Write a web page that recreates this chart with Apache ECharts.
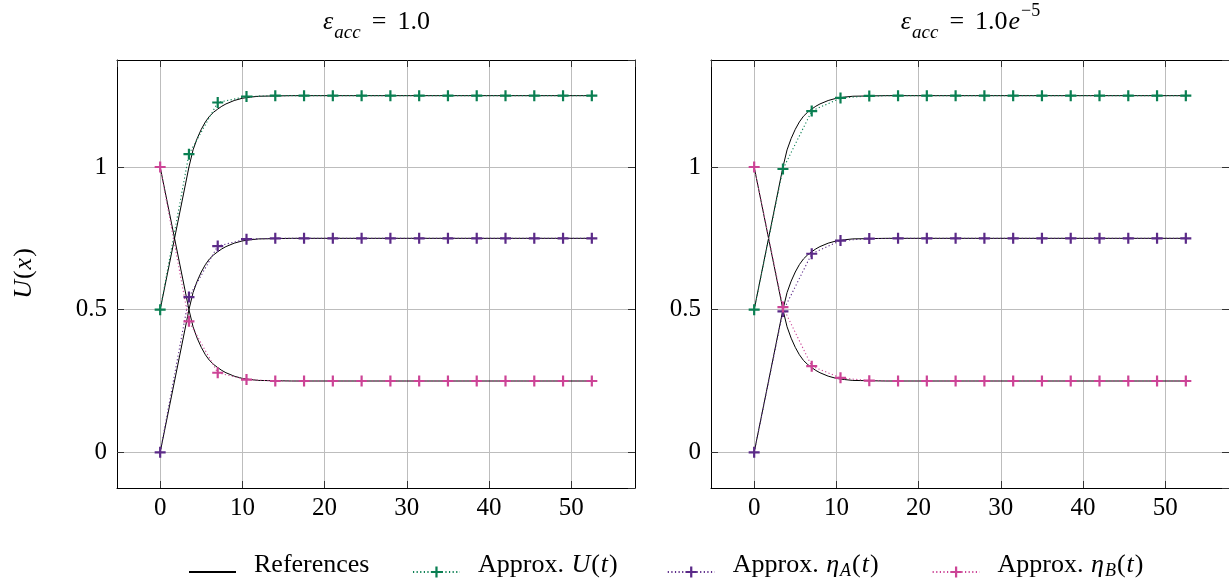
<!DOCTYPE html>
<html>
<head>
<meta charset="utf-8">
<script src="https://cdn.jsdelivr.net/npm/echarts@6/dist/echarts.min.js"></script>
<style>html,body{margin:0;padding:0;background:#fff}#c{width:1229px;height:586px}</style>
</head>
<body>
<div id="c"></div>
<script>
// ---- data ----
const tApprox = [0, 3.5, 7, 10.5, 14, 17.5, 21, 24.5, 28, 31.5, 35, 38.5, 42, 45.5, 49, 52.5];
// left panel: eps_acc = 1.0
const uApproxL    = [0.5, 1.045, 1.226, 1.247, 1.25, 1.25, 1.25, 1.25, 1.25, 1.25, 1.25, 1.25, 1.25, 1.25, 1.25, 1.25];
const etaAApproxL = [0, 0.544, 0.723, 0.747, 0.75, 0.75, 0.75, 0.75, 0.75, 0.75, 0.75, 0.75, 0.75, 0.75, 0.75, 0.75];
const etaBApproxL = [1, 0.459, 0.279, 0.255, 0.25, 0.25, 0.25, 0.25, 0.25, 0.25, 0.25, 0.25, 0.25, 0.25, 0.25, 0.25];
// right panel: eps_acc = 1.0e-5
const uApproxR    = [0.5, 0.993, 1.196, 1.242, 1.249, 1.25, 1.25, 1.25, 1.25, 1.25, 1.25, 1.25, 1.25, 1.25, 1.25, 1.25];
const etaAApproxR = [0, 0.494, 0.696, 0.742, 0.749, 0.75, 0.75, 0.75, 0.75, 0.75, 0.75, 0.75, 0.75, 0.75, 0.75, 0.75];
const etaBApproxR = [1, 0.509, 0.302, 0.261, 0.251, 0.25, 0.25, 0.25, 0.25, 0.25, 0.25, 0.25, 0.25, 0.25, 0.25, 0.25];
// reference curves
const tRef    = [0, 3.5, 4, 4.5, 5, 5.5, 6, 6.5, 7, 7.5, 8, 9, 10, 11, 12, 14, 16, 20, 30, 40, 52.5];
const uRef    = [0.5, 1.0, 1.06, 1.10, 1.132, 1.158, 1.178, 1.192, 1.203, 1.213, 1.221, 1.233, 1.241, 1.245, 1.248, 1.249, 1.25, 1.25, 1.25, 1.25, 1.25];
const etaARef = [0, 0.5, 0.56, 0.60, 0.632, 0.658, 0.678, 0.692, 0.703, 0.713, 0.721, 0.733, 0.741, 0.745, 0.748, 0.749, 0.75, 0.75, 0.75, 0.75, 0.75];
const etaBRef = [1, 0.5, 0.44, 0.40, 0.368, 0.342, 0.322, 0.308, 0.297, 0.287, 0.279, 0.267, 0.259, 0.255, 0.252, 0.251, 0.25, 0.25, 0.25, 0.25, 0.25];
const seriesNames = ['References', 'Approx. U(t)', 'Approx. \u03b7A(t)', 'Approx. \u03b7B(t)'];
const xRange = [-5.25, 57.75];
const yRange = [-0.125, 1.375];

// ---- style ----
const FONT = 'Liberation Serif';
const COL = { u: '#0a7f52', a: '#5b2a88', b: '#cc4496' };
const PLUS = 'path://M0,4H4V0H6V4H10V6H6V10H4V6H0Z';

const chart = echarts.init(document.getElementById('c'), null, { renderer: 'canvas' });
const zip = (xs, ys) => xs.map((x, i) => [x, ys[i]]);

const grids = [
  { left: 117, top: 60, width: 518, height: 428 },
  { left: 711, top: 60, width: 518, height: 428 }
];

const tick = { show: true, inside: true, length: 7, lineStyle: { color: '#333', width: 1 } };
const axLine = { show: true, onZero: false, lineStyle: { color: '#000', width: 1 } };
const lab = { fontFamily: FONT, fontSize: 25, color: '#000' };

const xAxes = [], yAxes = [];
[0, 1].forEach(g => {
  xAxes.push({ type: 'value', gridIndex: g, position: 'bottom', min: xRange[0], max: xRange[1], splitNumber: 6,
    axisLine: axLine, axisTick: tick,
    axisLabel: Object.assign({ margin: 8, showMinLabel: false, showMaxLabel: false }, lab),
    splitLine: { show: true, lineStyle: { color: '#bdbdbd', width: 1 } } });
  xAxes.push({ type: 'value', gridIndex: g, position: 'top', min: xRange[0], max: xRange[1], splitNumber: 6,
    axisLine: axLine, axisTick: tick, axisLabel: { show: false }, splitLine: { show: false } });
  yAxes.push({ type: 'value', gridIndex: g, position: 'left', min: yRange[0], max: yRange[1], splitNumber: 3,
    axisLine: axLine, axisTick: tick,
    axisLabel: Object.assign({ margin: 10, showMinLabel: false, showMaxLabel: false, formatter: v => String(v) }, lab),
    splitLine: { show: true, lineStyle: { color: '#bdbdbd', width: 1 } },
    name: g === 0 ? '{i|U}{n|(}{i|x}{n|)}' : '', nameLocation: 'middle', nameGap: 80, nameRotate: 90,
    nameTextStyle: { fontFamily: FONT, fontSize: 26, color: '#000',
      rich: { i: { fontFamily: FONT, fontSize: 26, fontStyle: 'italic', padding: [0, 1, 0, 1] }, n: { fontFamily: FONT, fontSize: 26 } } } });
  yAxes.push({ type: 'value', gridIndex: g, position: 'right', min: yRange[0], max: yRange[1], splitNumber: 3,
    axisLine: axLine, axisTick: tick, axisLabel: { show: false }, splitLine: { show: false } });
});

const series = [];
const panels = [
  { u: uApproxL, a: etaAApproxL, b: etaBApproxL },
  { u: uApproxR, a: etaAApproxR, b: etaBApproxR }
];
panels.forEach((p, g) => {
  const xi = g * 2, yi = g * 2;
  [uRef, etaARef, etaBRef].forEach(r => {
    series.push({ type: 'line', name: seriesNames[0], xAxisIndex: xi, yAxisIndex: yi, data: zip(tRef, r),
      symbol: 'none', z: 3, lineStyle: { color: '#000', width: 1 }, itemStyle: { color: '#000' },
      silent: true, animation: false });
  });
  [[p.u, COL.u, seriesNames[1]], [p.a, COL.a, seriesNames[2]], [p.b, COL.b, seriesNames[3]]].forEach(([d, c, n]) => {
    series.push({ type: 'line', name: n, xAxisIndex: xi, yAxisIndex: yi, data: zip(tApprox, d),
      symbol: PLUS, symbolSize: 11, showAllSymbol: true, z: 4,
      lineStyle: { color: c, width: 1.1, type: [1.2, 2.4] }, itemStyle: { color: c },
      silent: true, animation: false });
  });
});

const CLEAR = 'rgba(255,255,255,0)';
const legendRich = {
  n: { fontFamily: FONT, fontSize: 26, color: '#000' },
  i: { fontFamily: FONT, fontSize: 26, fontStyle: 'italic', color: '#000', padding: [0, 1, 0, 1] },
  s: { fontFamily: FONT, fontSize: 18, fontStyle: 'italic', color: '#000', padding: [12, 1, 0, 0] },
  g1: { fontSize: 26 },
  g2: { fontSize: 26, width: 13, backgroundColor: CLEAR },
  g3: { fontSize: 26, width: 17, backgroundColor: CLEAR }
};
const legendLabel = {
  'References': '{n|References}{g1| }',
  'Approx. U(t)': '{n|Approx. }{i|U}{n|(}{i|t}{n|)}{g2| }',
  'Approx. \u03b7A(t)': '{n|Approx. }{i|\u03b7}{s|A}{n|(}{i|t}{n|)}{g3| }',
  'Approx. \u03b7B(t)': '{n|Approx. }{i|\u03b7}{s|B}{n|(}{i|t}{n|)}'
};

const titleRich = {
  n: { fontFamily: FONT, fontSize: 26, fill: '#000', lineHeight: 40, verticalAlign: 'middle' },
  e: { fontFamily: FONT, fontSize: 26, fill: '#000', lineHeight: 40, verticalAlign: 'middle', padding: [0, 11, 0, 11] },
  i: { fontFamily: FONT, fontSize: 26, fontStyle: 'italic', fill: '#000', lineHeight: 40, verticalAlign: 'middle', padding: [0, 1, 0, 1] },
  s: { fontFamily: FONT, fontSize: 19, fontStyle: 'italic', fill: '#000', lineHeight: 28, verticalAlign: 'bottom' },
  p: { fontFamily: FONT, fontSize: 18, fill: '#000', lineHeight: 22, verticalAlign: 'top' }
};

chart.setOption({
  animation: false,
  grid: grids,
  xAxis: xAxes,
  yAxis: yAxes,
  series: series,
  legend: {
    data: [
      { name: seriesNames[0], itemStyle: { opacity: 0 } },
      seriesNames[1], seriesNames[2], seriesNames[3]
    ],
    left: 183, top: 547, itemWidth: 47, itemHeight: 14, itemGap: 36,
    formatter: n => legendLabel[n] || n,
    textStyle: { fontFamily: FONT, fontSize: 26, color: '#000', padding: [0, 0, 14, 13], rich: legendRich },
    selectedMode: false
  },
  graphic: [
    { type: 'text', x: 376, y: 22, style: { text: '{i|\u03b5}{s|acc}{e|=}{n|1.0}', rich: titleRich, align: 'center', verticalAlign: 'middle' } },
    { type: 'text', x: 970, y: 22, style: { text: '{i|\u03b5}{s|acc}{e|=}{n|1.0}{i|e}{p|\u22125}', rich: titleRich, align: 'center', verticalAlign: 'middle' } }
  ]
});
</script>
</body>
</html>
